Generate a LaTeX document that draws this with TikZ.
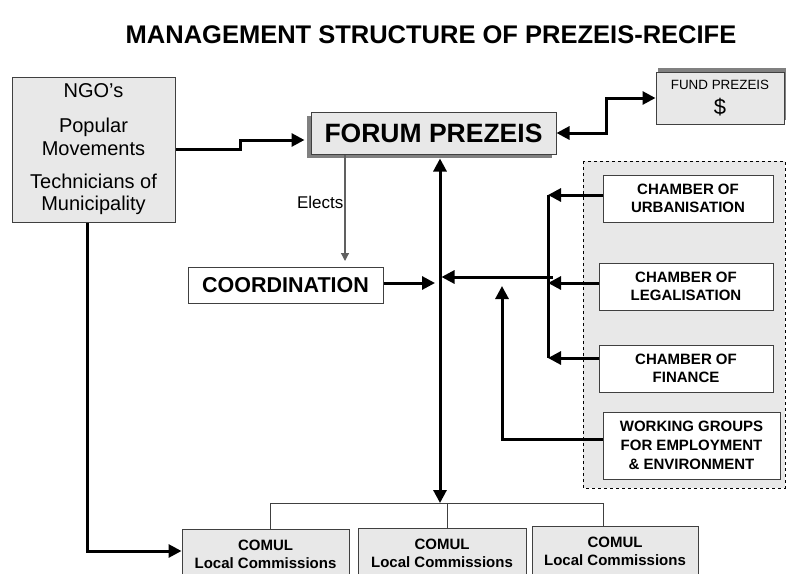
\documentclass[tikz,border=0pt]{standalone}
\usepackage{fontspec}
\setmainfont{Liberation Sans}
\usepackage{xcolor}
\usepackage{tikz}
\usetikzlibrary{arrows.meta,calc,shadows}
\definecolor{boxGray}{HTML}{E8E8E8}
\definecolor{borderGray}{HTML}{404040}
\definecolor{shadowGray}{HTML}{808080}
\definecolor{thinGray}{HTML}{606060}
\tikzset{
  grayBox/.style={draw=borderGray, fill=boxGray, line width=1pt, align=center, inner sep=0pt},
  whiteBox/.style={draw=borderGray, fill=white, line width=1pt, align=center, inner sep=0pt},
  chamberPanel/.style={draw=black, dashed, line width=0.7pt, fill=boxGray},
  thickArrow/.style={line width=3pt, -{Triangle[length=13pt,width=13pt]}},
  thickBoth/.style={line width=3pt, {Triangle[length=13pt,width=13pt]}-{Triangle[length=13pt,width=13pt]}},
  thickLine/.style={line width=3pt},
  thinLine/.style={draw=borderGray, line width=1pt},
  electsArrow/.style={draw=thinGray, line width=1.2pt, -{Triangle[length=8pt,width=8pt]}},
  titleText/.style={font=\bfseries\fontsize{25.5}{30}\selectfont},
  chamberText/.style={font=\bfseries\fontsize{15}{18}\selectfont},
  comulText/.style={font=\bfseries\fontsize{15}{18}\selectfont}
}
\begin{document}
\begin{tikzpicture}[x=1pt,y=-1pt]
  \clip (0,0) rectangle (786,573);
  \fill[white] (0,0) rectangle (786,573);

  \node[titleText] (title) at (431,35) {MANAGEMENT STRUCTURE OF PREZEIS-RECIFE};

  % left and top boxes
  \node[grayBox, minimum width=163pt, minimum height=145pt,
        font=\fontsize{20}{22.5}\selectfont] (ngo) at (93.5,149.5)
        {NGO’s\\[12.5pt]Popular\\Movements\\[10.5pt]Technicians of\\Municipality};
  \node[grayBox, minimum width=245pt, minimum height=42pt,
        font=\bfseries\fontsize{26.5}{30}\selectfont,
        drop shadow={shadow xshift=-4pt, shadow yshift=-4pt, fill=shadowGray, opacity=1}]
        (forum) at (433.5,133) {FORUM PREZEIS};
  \node[grayBox, minimum width=128pt, minimum height=52pt,
        drop shadow={shadow xshift=2pt, shadow yshift=4pt, fill=shadowGray, opacity=1}]
        (fund) at (720,98)
        {{\fontsize{13.4}{16}\selectfont FUND PREZEIS}\\[8pt]{\fontsize{22}{22}\selectfont \$}};
  \node[whiteBox, minimum width=195pt, minimum height=36pt,
        font=\bfseries\fontsize{21.5}{24}\selectfont] (coord) at (285.5,285) {COORDINATION};

  % chambers
  \draw[chamberPanel] (583,161) rectangle (785,488);
  \node[whiteBox, chamberText, minimum width=170pt, minimum height=47pt] (urb) at (688,198.5)
        {CHAMBER OF\\URBANISATION};
  \node[whiteBox, chamberText, minimum width=174pt, minimum height=47pt] (leg) at (686,286.5)
        {CHAMBER OF\\LEGALISATION};
  \node[whiteBox, chamberText, minimum width=174pt, minimum height=47pt] (fin) at (686,368.5)
        {CHAMBER OF\\FINANCE};
  \node[whiteBox, minimum width=177pt, minimum height=67pt,
        font=\bfseries\fontsize{15}{19}\selectfont] (wg) at (691.5,445.5)
        {WORKING GROUPS\\FOR EMPLOYMENT\\\& ENVIRONMENT};

  % local commissions
  \node[grayBox, comulText, minimum width=167pt, minimum height=50pt] (comulA) at (265.5,554)
        {COMUL\\Local Commissions};
  \node[grayBox, comulText, minimum width=168pt, minimum height=50pt] (comulB) at (442,553)
        {COMUL\\Local Commissions};
  \node[grayBox, comulText, minimum width=166pt, minimum height=50pt] (comulC) at (615,551)
        {COMUL\\Local Commissions};

  \coordinate (hub) at (440,283);
  \coordinate (bus) at (440,503);
  \coordinate (sU) at (548,195);
  \coordinate (sL) at (548,283);
  \coordinate (sF) at (548,358);
  \coordinate (sJ) at (553,277);
  \coordinate (wgBend) at (502,439);
  \coordinate (wgUp) at (502,286);
  \coordinate (busL) at (270,503);
  \coordinate (busM) at (447,503);
  \coordinate (busR) at (603,503);
  \coordinate (ngoDrop) at (87,551);
  \coordinate (elX) at (345,261);

  % connectors
  \draw[thickArrow, shorten >=6pt] (ngo.east) -- ++(65,0) |- ($(forum.west)+(0,7)$);
  \draw[thickBoth] (forum.east) -- ++(50,0) |- (fund.west);
  \draw[thickBoth] ($(forum.south -| hub)+(0,4)$) -- (bus);
  \draw[thickArrow, shorten >=5pt] (coord.east |- hub) -- (hub);
  \draw[electsArrow] (elX |- forum.south) -- node[pos=0.45, left, inner sep=1pt,
        font=\fontsize{17}{20}\selectfont] (elects) {Elects} (elX);

  \draw[thickArrow] (urb.west |- sU) -- (sU);
  \draw[thickArrow] (leg.west |- sL) -- (sL);
  \draw[thickArrow] (fin.west |- sF) -- (sF);
  \draw[thickLine] (sU) -- (sF);
  \draw[thickArrow, shorten >=1.5pt] (sJ) -- (sJ -| hub);
  \draw[thickArrow, line join=miter] (wg.west |- wgBend) -- (wgBend) -- (wgUp);

  \draw[thinLine] (busL) -- (busR);
  \draw[thinLine] (busL) -- (busL |- comulA.north);
  \draw[thinLine] (busM) -- (busM |- comulB.north);
  \draw[thinLine] (busR) -- (busR |- comulC.north);
  \draw[thickArrow, line join=miter] (ngoDrop |- ngo.south) -- (ngoDrop) -- (comulA.west |- ngoDrop);
\end{tikzpicture}
\end{document}
